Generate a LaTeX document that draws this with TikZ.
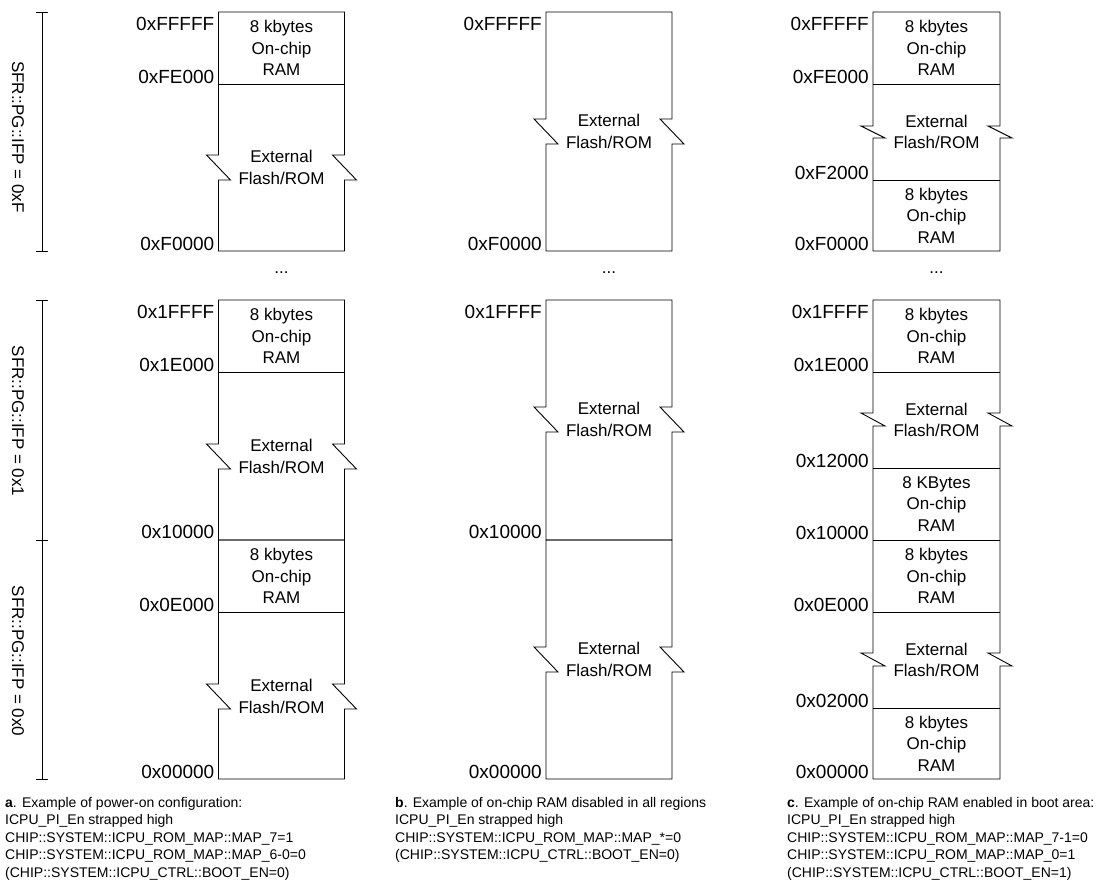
\documentclass[tikz,border=0pt]{standalone}
\usepackage{fontspec}
\setmainfont{Liberation Sans}

% Memory block outline with a break mark on both sides:
% #1 left x, #2 right x, #3 top y, #4 bottom y, #5 break top y, #6 break height
\newcommand\zigblock[6]{%
  \draw[memline] (#1,#3) -- (#2,#3) -- (#2,#5) -- ({#2-12},#5) -- ({#2+12},{#5+#6})
    -- (#2,{#5+#6}) -- (#2,#4) -- (#1,#4) -- (#1,{#5+#6}) -- ({#1+12},{#5+#6})
    -- ({#1-12},#5) -- (#1,#5) -- cycle;}

\tikzset{
  memline/.style={line width=0.9pt, line join=miter},
  addr/.style={font=\fontsize{19}{22}\selectfont, anchor=base east, inner sep=0pt},
  region/.style={font=\fontsize{17}{21.5}\selectfont, align=center, inner sep=0pt},
  % the base anchor of a multi-line node sits on its last line
  caption/.style={font=\fontsize{14}{17.5}\selectfont, align=left, anchor=base west, inner sep=0pt},
  sidelabel/.style={font=\fontsize{17}{20}\selectfont, rotate=-90, inner sep=0pt},
  dots/.style={font=\fontsize{17}{20}\selectfont, inner sep=0pt},
}

\begin{document}
\begin{tikzpicture}[x=1pt, y=-1pt]
\useasboundingbox (0,0) rectangle (1103,884);

% ---------- IFP page brackets ----------
\draw[memline] (36,12) -- (48,12) (42,12) -- (42,251) (36,251) -- (48,251);
\draw[memline] (36,300) -- (48,300) (42,300) -- (42,779) (36,540) -- (48,540) (36,779) -- (48,779);
\node[sidelabel] (ifpF) at (18,137) {SFR::PG::IFP = 0xF};
\node[sidelabel] (ifp1) at (18,421) {SFR::PG::IFP = 0x1};
\node[sidelabel] (ifp0) at (18,661) {SFR::PG::IFP = 0x0};

% ---------- column a ----------
\zigblock{218.5}{344.5}{12}{251}{155}{25}
\draw[memline] (218.5,84) -- (344.5,84);
\zigblock{218.5}{344.5}{300}{540}{444}{25}
\draw[memline] (218.5,372) -- (344.5,372);
\zigblock{218.5}{344.5}{540}{779}{684}{25}
\draw[memline] (218.5,612) -- (344.5,612);

\node[region] (aram1) at (281.5,48) {8 kbytes\\On-chip\\RAM};
\node[region] (aext1) at (281.5,167.5) {External\\Flash/ROM};
\node[region] (aram2) at (281.5,336) {8 kbytes\\On-chip\\RAM};
\node[region] (aext2) at (281.5,456.5) {External\\Flash/ROM};
\node[region] (aram3) at (281.5,576) {8 kbytes\\On-chip\\RAM};
\node[region] (aext3) at (281.5,696.5) {External\\Flash/ROM};

\node[addr] (a1) at (214.5,30) {0xFFFFF};
\node[addr] (a2) at (214.5,83) {0xFE000};
\node[addr] (a3) at (214.5,250) {0xF0000};
\node[addr] (a4) at (214.5,318) {0x1FFFF};
\node[addr] (a5) at (214.5,371) {0x1E000};
\node[addr] (a6) at (214.5,538.5) {0x10000};
\node[addr] (a7) at (214.5,611) {0x0E000};
\node[addr] (a8) at (214.5,778) {0x00000};
\node[dots] (adots) at (281.5,273) {...};

% ---------- column b ----------
\zigblock{546}{672}{12}{251}{119}{25}
\zigblock{546}{672}{300}{540}{407}{25}
\zigblock{546}{672}{540}{779}{647}{25}

\node[region] (bext1) at (609,131.5) {External\\Flash/ROM};
\node[region] (bext2) at (609,419.5) {External\\Flash/ROM};
\node[region] (bext3) at (609,659.5) {External\\Flash/ROM};

\node[addr] (b1) at (542,30) {0xFFFFF};
\node[addr] (b2) at (542,250) {0xF0000};
\node[addr] (b3) at (542,318) {0x1FFFF};
\node[addr] (b4) at (542,538.5) {0x10000};
\node[addr] (b5) at (542,778) {0x00000};
\node[dots] (bdots) at (609,273) {...};

% ---------- column c ----------
\zigblock{873}{1000}{12}{251}{126}{12}
\draw[memline] (873,84) -- (1000,84) (873,180) -- (1000,180);
\draw[memline] (873,300) -- (1000,300) -- (1000,413) -- (988,413) -- (1012,426) -- (1000,426)
  -- (1000,653) -- (988,653) -- (1012,666) -- (1000,666) -- (1000,779) -- (873,779)
  -- (873,666) -- (885,666) -- (861,653) -- (873,653) -- (873,426) -- (885,426)
  -- (861,413) -- (873,413) -- cycle;
\draw[memline] (873,372) -- (1000,372) (873,468) -- (1000,468) (873,540) -- (1000,540)
  (873,612) -- (1000,612) (873,708) -- (1000,708);

\node[region] (cram1) at (936.5,48) {8 kbytes\\On-chip\\RAM};
\node[region] (cext1) at (936.5,132) {External\\Flash/ROM};
\node[region] (cram2) at (936.5,215.5) {8 kbytes\\On-chip\\RAM};
\node[region] (cram3) at (936.5,336) {8 kbytes\\On-chip\\RAM};
\node[region] (cext2) at (936.5,420) {External\\Flash/ROM};
\node[region] (cram4) at (936.5,504) {8 KBytes\\On-chip\\RAM};
\node[region] (cram5) at (936.5,576) {8 kbytes\\On-chip\\RAM};
\node[region] (cext3) at (936.5,660) {External\\Flash/ROM};
\node[region] (cram6) at (936.5,743.5) {8 kbytes\\On-chip\\RAM};

\node[addr] (c1) at (869,30) {0xFFFFF};
\node[addr] (c2) at (869,83) {0xFE000};
\node[addr] (c3) at (869,179) {0xF2000};
\node[addr] (c4) at (869,250) {0xF0000};
\node[addr] (c5) at (869,318) {0x1FFFF};
\node[addr] (c6) at (869,371) {0x1E000};
\node[addr] (c7) at (869,467) {0x12000};
\node[addr] (c8) at (869,539) {0x10000};
\node[addr] (c9) at (869,611) {0x0E000};
\node[addr] (c10) at (869,707) {0x02000};
\node[addr] (c11) at (869,778) {0x00000};
\node[dots] (cdots) at (936.5,273) {...};

% ---------- captions ----------
\node[caption] (capa) at (5,877) {\textbf{a}. Example of power-on configuration:\\
  ICPU\_PI\_En strapped high\\
  CHIP::SYSTEM::ICPU\_ROM\_MAP::MAP\_7=1\\
  CHIP::SYSTEM::ICPU\_ROM\_MAP::MAP\_6-0=0\\
  (CHIP::SYSTEM::ICPU\_CTRL::BOOT\_EN=0)};
\node[caption] (capb) at (395,859.5) {\textbf{b}. Example of on-chip RAM disabled in all regions\\
  ICPU\_PI\_En strapped high\\
  CHIP::SYSTEM::ICPU\_ROM\_MAP::MAP\_*=0\\
  (CHIP::SYSTEM::ICPU\_CTRL::BOOT\_EN=0)};
\node[caption] (capc) at (787,877) {\textbf{c}. Example of on-chip RAM enabled in boot area:\\
  ICPU\_PI\_En strapped high\\
  CHIP::SYSTEM::ICPU\_ROM\_MAP::MAP\_7-1=0\\
  CHIP::SYSTEM::ICPU\_ROM\_MAP::MAP\_0=1\\
  (CHIP::SYSTEM::ICPU\_CTRL::BOOT\_EN=1)};
\end{tikzpicture}
\end{document}
